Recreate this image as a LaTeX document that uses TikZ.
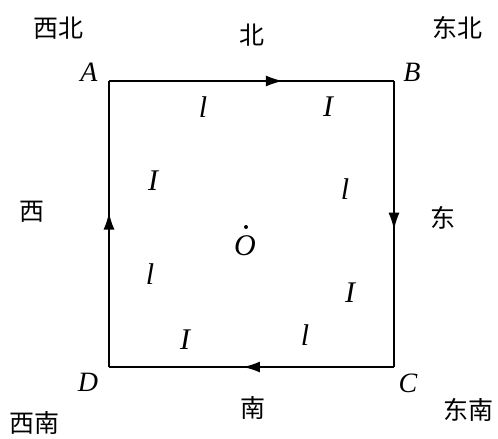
\documentclass[tikz,border=0pt]{standalone}
\usepackage{fontspec}
\setmainfont{Liberation Serif}
\newfontfamily\cjk{Noto Sans CJK SC}
\usetikzlibrary{arrows.meta,decorations.markings}

\begin{document}
\begin{tikzpicture}[x=0.5pt,y=-0.5pt,>={Latex[length=8.5pt,width=5.5pt]},
  side/.style={line width=0.8pt,postaction={decorate},decoration={markings,mark=at position #1 with {\arrow{>}}}},
  corner/.style={font=\fontsize{14}{16}\selectfont\itshape,inner sep=1pt},
  dir/.style={font=\fontsize{12.5}{14}\selectfont\cjk,inner sep=1pt},
  sym/.style={font=\fontsize{15}{17}\selectfont\itshape,inner sep=1pt}]
\useasboundingbox (0,0) rectangle (498,439);
% corners of the loop
\coordinate (a) at (109,81);
\coordinate (b) at (394,81);
\coordinate (c) at (394,367);
\coordinate (d) at (109,367);
\draw[side=0.61] (a) -- (b);
\draw[side=0.52] (b) -- (c);
\draw[side=0.53] (c) -- (d);
\draw[side=0.54] (d) -- (a);
\node[corner] (A) at (89,72) {A};
\node[corner] (B) at (412,72) {B};
\node[corner] (C) at (408,383) {C};
\node[corner] (D) at (88,382) {D};
% directions
\node[dir] (nw) at (58,28) {西北};
\node[dir] (n) at (252,35) {北};
\node[dir] (ne) at (457,28) {东北};
\node[dir] (w) at (32,212) {西};
\node[dir] (e) at (443,218) {东};
\node[dir] (sw) at (35,423) {西南};
\node[dir] (s) at (253,408) {南};
\node[dir] (se) at (468,410) {东南};
% letters inside
\node[sym] (l1) at (203,107) {l};
\node[sym] (I1) at (328,107) {I};
\node[sym] (I2) at (153,181) {I};
\node[sym] (l2) at (345,189) {l};
\node[sym] (O) at (245,246) {O};
\fill (246,227) circle (2);
\node[sym] (l3) at (150,274) {l};
\node[sym] (I3) at (350,293) {I};
\node[sym] (I4) at (185,340) {I};
\node[sym] (l4) at (305,335) {l};
\end{tikzpicture}
\end{document}
